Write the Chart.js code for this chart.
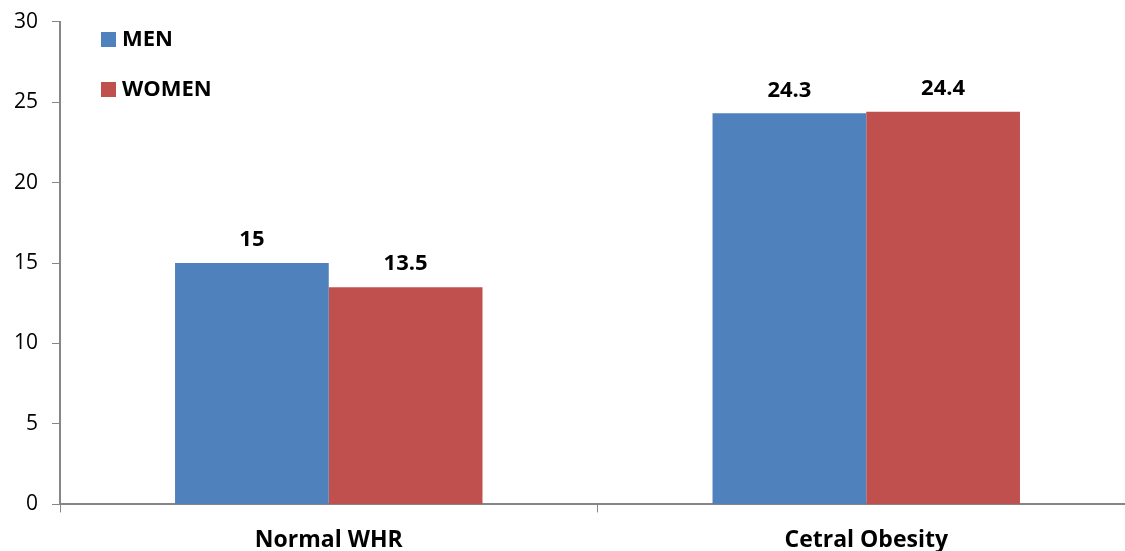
<!DOCTYPE html>
<html>
<head>
<meta charset="utf-8">
<script src="https://cdn.jsdelivr.net/npm/chart.js@4.4.0/dist/chart.umd.min.js"></script>
<style>
html,body{margin:0;padding:0;background:#fff;overflow:hidden;}
#wrap{position:relative;top:-5px;width:1137px;height:573px;}
</style>
</head>
<body>
<div id="wrap"><canvas id="c"></canvas></div>
<script>
const categories = ["Normal WHR", "Cetral Obesity"];
const menValues = [15, 24.3];
const womenValues = [13.5, 24.4];
const seriesNames = ["MEN", "WOMEN"];
const yTicks = [0, 5, 10, 15, 20, 25, 30];

const FONT = "'Open Sans', 'Liberation Sans', sans-serif";

const valueLabels = {
  id: 'valueLabels',
  afterDatasetsDraw(chart) {
    const ctx = chart.ctx;
    ctx.save();
    ctx.fillStyle = '#000';
    ctx.font = 'bold 22px ' + FONT;
    ctx.textAlign = 'center';
    ctx.textBaseline = 'middle';
    chart.data.datasets.forEach((ds, i) => {
      chart.getDatasetMeta(i).data.forEach((bar, j) => {
        ctx.fillText(String(ds.data[j]), bar.x, bar.y - 23);
      });
    });
    ctx.restore();
  }
};

const innerLegend = {
  id: 'innerLegend',
  afterDraw(chart) {
    const ctx = chart.ctx;
    ctx.save();
    ctx.font = 'bold 22px ' + FONT;
    ctx.textBaseline = 'middle';
    ctx.textAlign = 'left';
    chart.data.datasets.forEach((ds, i) => {
      const y = 44 + i * 50;
      ctx.fillStyle = ds.backgroundColor;
      ctx.fillRect(101, y - 7, 15, 15);
      ctx.fillStyle = '#000';
      ctx.fillText(ds.label, 122, y + 1);
    });
    ctx.restore();
  }
};

new Chart(document.getElementById('c'), {
  type: 'bar',
  data: {
    labels: categories,
    datasets: [
      { label: seriesNames[0], data: menValues, backgroundColor: '#4F81BD' },
      { label: seriesNames[1], data: womenValues, backgroundColor: '#C0504D' }
    ]
  },
  options: {
    responsive: true,
    maintainAspectRatio: false,
    animation: false,
    layout: { padding: { top: 0, right: 2, left: 0, bottom: 0 } },
    plugins: { legend: { display: false }, tooltip: { enabled: false } },
    datasets: { bar: { categoryPercentage: 0.572, barPercentage: 1.0 } },
    scales: {
      x: {
        grid: { drawOnChartArea: false, offset: true, color: '#868686', tickLength: 8, lineWidth: 1 },
        border: { color: '#868686', width: 2 },
        ticks: { color: '#000', font: { family: FONT, size: 23, weight: 'bold' }, padding: 14 }
      },
      y: {
        min: 0, max: 30,
        afterBuildTicks(scale) { scale.ticks = yTicks.map(v => ({ value: v })); },
        grid: { drawOnChartArea: false, color: '#868686', tickLength: 8 },
        border: { color: '#868686', width: 2 },
        ticks: { color: '#000', font: { family: FONT, size: 21 }, padding: 14 }
      }
    }
  },
  plugins: [valueLabels, innerLegend]
});
</script>
</body>
</html>
